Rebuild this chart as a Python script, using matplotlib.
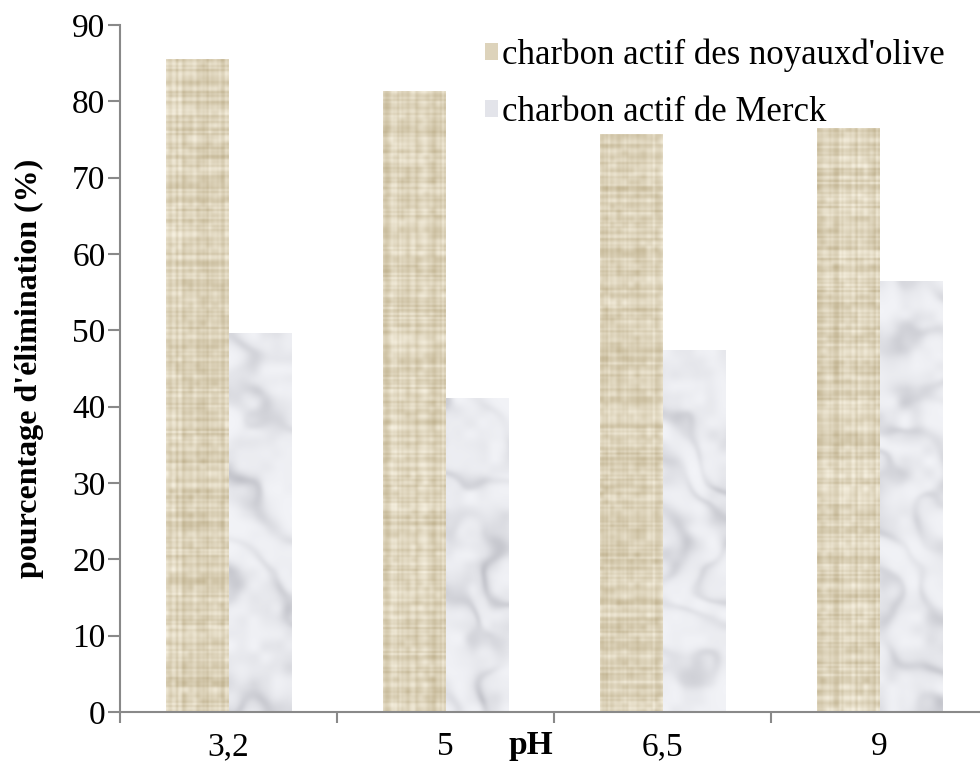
import numpy as np
import matplotlib
matplotlib.use("Agg")
import matplotlib.pyplot as plt
from matplotlib.patches import Patch

plt.rcParams['font.family'] = ['Liberation Serif', 'DejaVu Serif']

# Data
categories = ['3,2', '5', '6,5', '9']
olive = [85.5, 81.3, 75.6, 76.5]
merck = [49.6, 41.1, 47.3, 56.4]
series_labels = ["charbon actif des noyauxd'olive", "charbon actif de Merck"]

W_PX, H_PX = 980, 771
fig = plt.figure(figsize=(W_PX / 100, H_PX / 100), dpi=100)
ax = fig.add_axes([120 / W_PX, 1 - 712 / H_PX, 868 / W_PX, 687 / H_PX])

rng = np.random.default_rng(11)


def smooth_noise(h, w, cell):
    gh, gw = h // cell + 3, w // cell + 3
    g = rng.random((gh, gw))
    ys = np.arange(h) / cell
    xs = np.arange(w) / cell
    y0 = np.floor(ys).astype(int)
    x0 = np.floor(xs).astype(int)
    fy = (ys - y0)[:, None]
    fx = (xs - x0)[None, :]
    fy = fy * fy * (3 - 2 * fy)
    fx = fx * fx * (3 - 2 * fx)
    a = g[y0][:, x0]
    b = g[y0][:, x0 + 1]
    c = g[y0 + 1][:, x0]
    d = g[y0 + 1][:, x0 + 1]
    return (a * (1 - fx) + b * fx) * (1 - fy) + (c * (1 - fx) + d * fx) * fy


def canvas_texture(h, w):
    col = np.repeat(rng.random(w // 2 + 2), 2)[:w]
    row = np.repeat(rng.random(h // 2 + 2), 2)[:h]
    col = np.convolve(col, [0.25, 0.5, 0.25], mode='same')
    row = np.convolve(row, [0.25, 0.5, 0.25], mode='same')
    t = 0.45 * col[None, :] + 0.45 * row[:, None] + 0.3 * smooth_noise(h, w, 6)
    t = (t - t.min()) / (t.max() - t.min() + 1e-9)
    light = np.array([246, 240, 224]) / 255
    dark = np.array([194, 180, 146]) / 255
    img = light[None, None, :] * (1 - t[..., None]) + dark[None, None, :] * t[..., None]
    return img


def marble_texture(h, w):
    yy, xx = np.mgrid[0:h, 0:w]
    turb = smooth_noise(h, w, 60) * 1.6 + smooth_noise(h, w, 22) * 0.6
    v = np.sin(0.05 * (xx * 0.8 - yy * 0.6) + 3.0 * turb)
    vein = np.exp(-(v ** 2) / 0.35)
    shade = smooth_noise(h, w, 30)
    t = 0.42 * vein * (0.25 + 0.75 * shade) + 0.25 * smooth_noise(h, w, 12) * shade
    t = np.clip(t, 0, 1)
    light = np.array([243, 244, 248]) / 255
    dark = np.array([160, 161, 170]) / 255
    img = light[None, None, :] * (1 - t[..., None]) + dark[None, None, :] * t[..., None]
    return img


x = np.arange(len(categories))
bw = 0.286
px_per_x = 217.0
px_per_y = 687.0 / 90.0

olive_bars = ax.bar(x - bw / 2, olive, width=bw, color='none', edgecolor='none')
merck_bars = ax.bar(x + bw / 2, merck, width=bw, color='none', edgecolor='none')

for bars, tex in ((olive_bars, canvas_texture), (merck_bars, marble_texture)):
    for b in bars:
        x0, w, h = b.get_x(), b.get_width(), b.get_height()
        hp = max(int(round(h * px_per_y)), 2)
        wp = max(int(round(w * px_per_x)), 2)
        img = tex(hp, wp)
        ax.imshow(img, extent=[x0, x0 + w, 0, h], aspect='auto',
                  interpolation='bilinear', origin='upper', zorder=2)

ax.set_xlim(-0.5, 3.5)
ax.set_ylim(0, 90)
ax.set_yticks(np.arange(0, 91, 10))
ax.set_xticks(np.arange(-0.5, 3.6, 1.0))
ax.set_xticklabels([])
ax.set_xticks(x, minor=True)
ax.set_xticklabels(categories, minor=True)

spine_c = '#898989'
for s in ('top', 'right'):
    ax.spines[s].set_visible(False)
for s in ('left', 'bottom'):
    ax.spines[s].set_color(spine_c)
    ax.spines[s].set_linewidth(1.5)

ax.tick_params(axis='y', which='major', direction='out', length=9, width=1.5,
               color=spine_c, labelsize=24, pad=1.5)
ax.tick_params(axis='x', which='major', direction='out', length=8, width=1.5,
               color=spine_c)
ax.tick_params(axis='x', which='minor', length=0, labelsize=24, pad=14)

ax.set_ylabel("pourcentage d'élimination (%)", fontsize=23, fontweight='bold')
ax.yaxis.set_label_coords((44 - 120) / 868, 0.5)
ax.set_xlabel('pH', fontsize=24, fontweight='bold')
ax.xaxis.set_label_coords((531 - 120) / 868, (712 - 730) / 687)

handles = [Patch(facecolor='#ddd3bb', edgecolor='none'),
           Patch(facecolor='#e3e4ea', edgecolor='none')]
ax.legend(handles, series_labels, loc='upper left', frameon=False,
          bbox_to_anchor=(485 / W_PX, 1 - 38 / H_PX), bbox_transform=fig.transFigure,
          fontsize=25, handlelength=0.38, handleheight=0.38, handletextpad=0.1,
          labelspacing=0.7, borderpad=0, borderaxespad=0)

fig.savefig('out.png', dpi=100)
